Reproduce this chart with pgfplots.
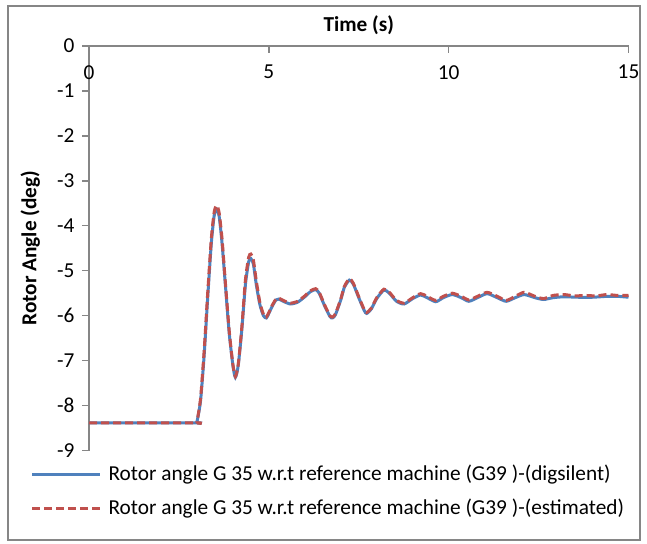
\documentclass[border=0pt]{standalone}
\usepackage{fontspec}
\setmainfont{Carlito}
\usepackage{pgfplots}
\pgfplotsset{compat=1.18}
\definecolor{xlblue}{HTML}{4F81BD}
\definecolor{xlred}{HTML}{C0504D}
\definecolor{xlgrey}{HTML}{868686}

\pgfplotstableread{
t v
0 -8.38
2.95 -8.38
3.0 -8.36
3.1 -7.9
3.2 -6.9
3.3 -5.6
3.4 -4.4
3.48 -3.78
3.55 -3.63
3.62 -3.8
3.7 -4.4
3.8 -5.4
3.9 -6.4
4.0 -7.1
4.07 -7.37
4.15 -7.1
4.25 -6.3
4.35 -5.3
4.44 -4.8
4.5 -4.73
4.57 -4.85
4.65 -5.3
4.75 -5.75
4.85 -6.0
4.93 -6.05
5.0 -5.95
5.1 -5.78
5.2 -5.65
5.28 -5.63
5.4 -5.68
5.6 -5.74
5.8 -5.70
6.0 -5.58
6.15 -5.47
6.3 -5.42
6.4 -5.5
6.55 -5.78
6.7 -6.02
6.77 -6.05
6.85 -5.98
7.0 -5.65
7.1 -5.37
7.24 -5.21
7.35 -5.3
7.5 -5.6
7.65 -5.88
7.72 -5.95
7.85 -5.85
8.0 -5.62
8.2 -5.43
8.35 -5.5
8.55 -5.68
8.76 -5.74
9.0 -5.62
9.22 -5.54
9.4 -5.6
9.64 -5.69
9.85 -5.6
10.1 -5.53
10.35 -5.6
10.56 -5.68
10.8 -5.6
11.07 -5.51
11.35 -5.6
11.6 -5.68
11.85 -5.6
12.1 -5.53
12.4 -5.6
12.64 -5.64
12.9 -5.6
13.2 -5.58
13.6 -5.59
14.0 -5.59
14.4 -5.57
14.7 -5.57
15.0 -5.59
}\digsilent

\pgfplotstableread{
t v
0 -8.38
2.95 -8.38
3.0 -8.36
3.1 -7.85
3.2 -6.8
3.3 -5.5
3.4 -4.3
3.48 -3.7
3.55 -3.55
3.62 -3.72
3.7 -4.3
3.8 -5.35
3.9 -6.35
4.0 -7.08
4.07 -7.35
4.15 -7.08
4.25 -6.25
4.35 -5.2
4.44 -4.7
4.5 -4.63
4.57 -4.76
4.65 -5.22
4.75 -5.7
4.85 -5.97
4.93 -6.03
5.0 -5.93
5.1 -5.76
5.2 -5.63
5.28 -5.61
5.4 -5.66
5.6 -5.72
5.8 -5.68
6.0 -5.56
6.15 -5.45
6.3 -5.40
6.4 -5.48
6.55 -5.76
6.7 -6.0
6.77 -6.03
6.85 -5.96
7.0 -5.63
7.1 -5.35
7.24 -5.18
7.35 -5.28
7.5 -5.58
7.65 -5.86
7.72 -5.93
7.85 -5.83
8.0 -5.6
8.2 -5.41
8.35 -5.48
8.55 -5.66
8.76 -5.72
9.0 -5.6
9.22 -5.51
9.4 -5.57
9.64 -5.66
9.85 -5.57
10.1 -5.5
10.35 -5.57
10.56 -5.65
10.8 -5.57
11.07 -5.48
11.35 -5.57
11.6 -5.66
11.85 -5.57
12.1 -5.48
12.4 -5.57
12.64 -5.62
12.9 -5.55
13.2 -5.53
13.5 -5.56
13.8 -5.55
14.1 -5.56
14.4 -5.53
14.7 -5.55
15.0 -5.55
}\estimated

\begin{document}
\fontsize{10.65}{12.8}\selectfont
\begin{tikzpicture}
\path[use as bounding box] (0,0) rectangle (323.5pt,272pt);
\draw[xlgrey, line width=0.8pt] (4pt,2pt) rectangle (320pt,269pt);
\begin{axis}[
    at={(44.5pt,46.65pt)}, anchor=south west,
    scale only axis,
    width=269.75pt, height=202.5pt,
    xmin=0, xmax=15, ymin=-9, ymax=0,
    xtick={0,5,10,15}, ytick={0,-1,...,-9},
    axis x line=top, axis y line=left,
    axis line style={xlgrey, line width=0.8pt, -},
    tick style={xlgrey, line width=0.8pt},
    major tick length=3.5pt,
    tick align=outside,
    x tick style={yshift=-3.5pt},
    xticklabel style={anchor=north, yshift=-9.5pt},
    /pgf/number format/assume math mode=true,
    ticklabel style={font=\fontsize{10.65}{12.8}\selectfont},
    xlabel={\textbf{Time (s)}},
    ylabel={\textbf{Rotor Angle (deg)}},
    xlabel style={at={(axis description cs:0.5,1.051)}, anchor=center},
    ylabel style={at={(axis description cs:-0.109,0.5)}, anchor=center},
    legend style={draw=none, fill=none, at={(axis description cs:-0.109,-0.025)},
        anchor=north west, font=\fontsize{10.65}{12.8}\selectfont,
        row sep=3.5pt, inner sep=0pt,
        /tikz/every odd column/.append style={column sep=1.5pt}},
    legend cell align=left,
    legend image code/.code={\draw[#1] (0pt,0pt) -- (34pt,0pt);},
    clip=false,
]
\addplot[xlblue, line width=1.5pt, smooth, tension=0.4] table[x=t,y=v] {\digsilent};
\addlegendentry{Rotor angle G 35 w.r.t reference machine (G39 )-(digsilent)}
\addplot[xlred, line width=1.5pt, dash pattern=on 4pt off 2pt, smooth, tension=0.4] table[x=t,y=v] {\estimated};
\addlegendentry{Rotor angle G 35 w.r.t reference machine (G39 )-(estimated)}
\end{axis}
\end{tikzpicture}
\end{document}
